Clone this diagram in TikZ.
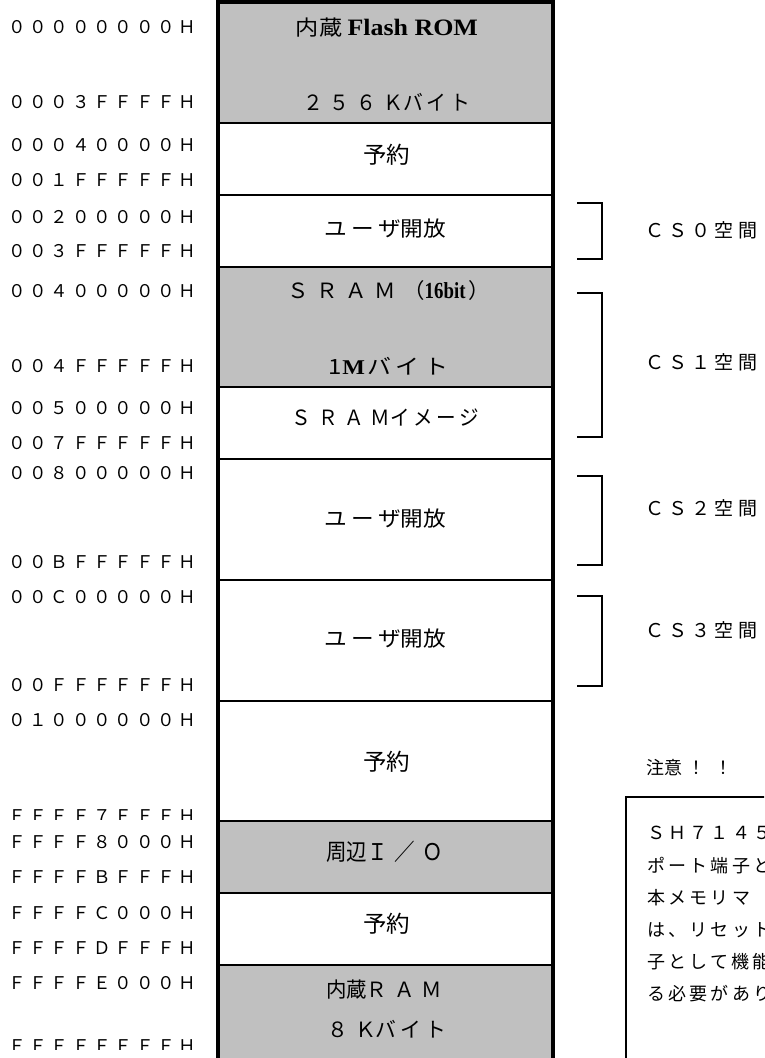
\documentclass[tikz,border=0pt]{standalone}
\usepackage{fontspec}
\usepackage{graphicx}
\setmainfont{Noto Sans CJK JP}
\newfontfamily\jk{Noto Sans CJK JP}
\newfontfamily\jw[LetterSpace=18]{Noto Sans CJK JP}
\newfontfamily\jl[LetterSpace=35]{Noto Sans CJK JP}
\newfontfamily\ja[LetterSpace=22]{Noto Sans CJK JP}
\newfontfamily\jc[LetterSpace=22]{Noto Sans CJK JP}
\newfontfamily\jn[LetterSpace=18]{Noto Sans CJK JP}
\newfontfamily\srf{Liberation Serif}
\definecolor{memgray}{RGB}{192,192,192}
\newcommand{\fitw}[2]{\resizebox{#1pt}{\height}{#2}}
\newcommand{\sbold}[1]{{\srf\bfseries #1}}

\begin{document}
\begin{tikzpicture}[x=1pt,y=-1pt,
  mem/.style={draw=black, line width=2.2pt, minimum width=335pt, inner sep=0pt, outer sep=0pt, anchor=north west, fill=white},
  romfill/.style={fill=memgray},
  addr/.style={anchor=west, inner sep=0pt, font=\ja\fontsize{17.5}{20}\selectfont},
  lab/.style={inner sep=0pt, font=\jk\fontsize{21}{23}\selectfont},
  biglab/.style={inner sep=0pt, font=\jk\fontsize{23}{25}\selectfont},
  cslab/.style={anchor=west, inner sep=0pt, font=\jc\fontsize{19}{21}\selectfont},
  notetext/.style={anchor=west, inner sep=0pt, font=\jn\fontsize{18}{20}\selectfont},
  brk/.style={line width=2pt},
  outerline/.style={line width=3.5pt},
]
\useasboundingbox (0,0) rectangle (764,1058);
\clip (0,0) rectangle (764,1058);

% memory column
\node[mem,romfill,minimum height=121pt] (m1) at (218,2) {};
\node[mem,minimum height=72pt] (m2) at (m1.south west) {};
\node[mem,minimum height=72pt] (m3) at (m2.south west) {};
\node[mem,romfill,minimum height=120pt] (m4) at (m3.south west) {};
\node[mem,minimum height=72pt] (m5) at (m4.south west) {};
\node[mem,minimum height=121pt] (m6) at (m5.south west) {};
\node[mem,minimum height=121pt] (m7) at (m6.south west) {};
\node[mem,minimum height=120pt] (m8) at (m7.south west) {};
\node[mem,romfill,minimum height=72pt] (m9) at (m8.south west) {};
\node[mem,minimum height=72pt] (m10) at (m9.south west) {};
\node[mem,romfill,minimum height=120pt] (m11) at (m10.south west) {};
\draw[outerline] (m1.north west) rectangle (m11.south east);

% column texts
\node[lab] (t1) at (387,27.5) {\fitw{182}{内蔵 {\fontsize{23.5}{25}\selectfont\sbold{Flash ROM}}}};
\node[lab] (t2) at (386.5,102) {\fitw{167}{{\jl ２５６Ｋ}{\jw バイト}}};
\node[biglab] (t3) at (386.5,155) {\fitw{47}{予約}};
\node[lab] (t4) at (385.5,229) {\fitw{121}{{\jw ユーザ}開放}};
\node[lab] (t5) at (388.8,291) {\fitw{202.4}{{\jl ＳＲＡＭ（}\resizebox{40pt}{\height}{\fontsize{23}{25}\selectfont\sbold{16bit}}\kern3pt）}};
\node[lab] (t6) at (388,366) {\fitw{120}{1\kern1pt{\fontsize{21}{23}\selectfont\sbold{M}}\kern2pt{\jw バイト}}};
\node[lab] (t7) at (385.3,418) {\fitw{187.4}{{\jl ＳＲＡＭ}{\jw イメージ}}};
\node[lab] (t8) at (385.5,519) {\fitw{121}{{\jw ユーザ}開放}};
\node[lab] (t9) at (385.5,639) {\fitw{121}{{\jw ユーザ}開放}};
\node[biglab] (t10) at (386.5,762) {\fitw{47}{予約}};
\node[biglab] (t11) at (384.5,852) {\fitw{117}{周辺{\jl Ｉ／Ｏ}}};
\node[biglab] (t12) at (386.5,924) {\fitw{47}{予約}};
\node[lab] (t13) at (384.2,990) {\fitw{116.4}{内蔵{\jl ＲＡＭ}}};
\node[lab] (t14) at (386.5,1029) {\fitw{119}{{\jl ８Ｋ}{\jw バイト}}};

% addresses
\node[addr] (a1) at (8,27.5) {００００００００Ｈ};
\node[addr] (a2) at (8,102.5) {０００３ＦＦＦＦＨ};
\node[addr] (a3) at (8,145) {０００４００００Ｈ};
\node[addr] (a4) at (8,180) {００１ＦＦＦＦＦＨ};
\node[addr] (a5) at (8,216.7) {００２０００００Ｈ};
\node[addr] (a6) at (8,251) {００３ＦＦＦＦＦＨ};
\node[addr] (a7) at (8,291) {００４０００００Ｈ};
\node[addr] (a8) at (8,365.7) {００４ＦＦＦＦＦＨ};
\node[addr] (a9) at (8,408) {００５０００００Ｈ};
\node[addr] (a10) at (8,443) {００７ＦＦＦＦＦＨ};
\node[addr] (a11) at (8,473) {００８０００００Ｈ};
\node[addr] (a12) at (8,561.7) {００ＢＦＦＦＦＦＨ};
\node[addr] (a13) at (8,596.7) {００Ｃ０００００Ｈ};
\node[addr] (a14) at (8,685) {００ＦＦＦＦＦＦＨ};
\node[addr] (a15) at (8,720) {０１００００００Ｈ};
\begin{scope}
  \clip (0,790) rectangle (210,819.5);
  \node[addr] (a16) at (8,816.5) {ＦＦＦＦ７ＦＦＦＨ};
\end{scope}
\node[addr] (a17) at (8,841.7) {ＦＦＦＦ８０００Ｈ};
\node[addr] (a18) at (8,876.7) {ＦＦＦＦＢＦＦＦＨ};
\node[addr] (a19) at (8,913) {ＦＦＦＦＣ０００Ｈ};
\node[addr] (a20) at (8,948) {ＦＦＦＦＤＦＦＦＨ};
\node[addr] (a21) at (8,983) {ＦＦＦＦＥ０００Ｈ};
\begin{scope}
  \clip (0,1030) rectangle (210,1049.5);
  \node[addr] (a22) at (8,1046.5) {ＦＦＦＦＦＦＦＦＨ};
\end{scope}

% chip-select brackets
\draw[brk] (577,203) -- (602,203) -- (602,259) -- (577,259);
\draw[brk] (577,293) -- (602,293) -- (602,437) -- (577,437);
\draw[brk] (577,476) -- (602,476) -- (602,565) -- (577,565);
\draw[brk] (577,596) -- (602,596) -- (602,686) -- (577,686);

\node[cslab] (cs0) at (645.2,230) {ＣＳ０空間};
\node[cslab] (cs1) at (645.2,362) {ＣＳ１空間};
\node[cslab] (cs2) at (645.2,508) {ＣＳ２空間};
\node[cslab] (cs3) at (645.2,630) {ＣＳ３空間};

% caution note
\node[anchor=west, inner sep=0pt, font=\jk\fontsize{18}{20}\selectfont] (caution) at (646,768) {注意\kern5.5pt！\kern9pt！};
\draw[line width=2pt] (626,797) rectangle (820,1090);
\node[notetext] (n1) at (647,833) {ＳＨ７１４５};
\node[notetext] (n2) at (647,865.5) {ポート端子と};
\node[notetext] (n3) at (647,897.5) {本メモリマ};
\node[notetext] (n4) at (647,930) {は、リセット};
\node[notetext] (n5) at (647,962) {子として機能};
\node[notetext] (n6) at (647,994) {る必要があり};
\end{tikzpicture}
\end{document}
